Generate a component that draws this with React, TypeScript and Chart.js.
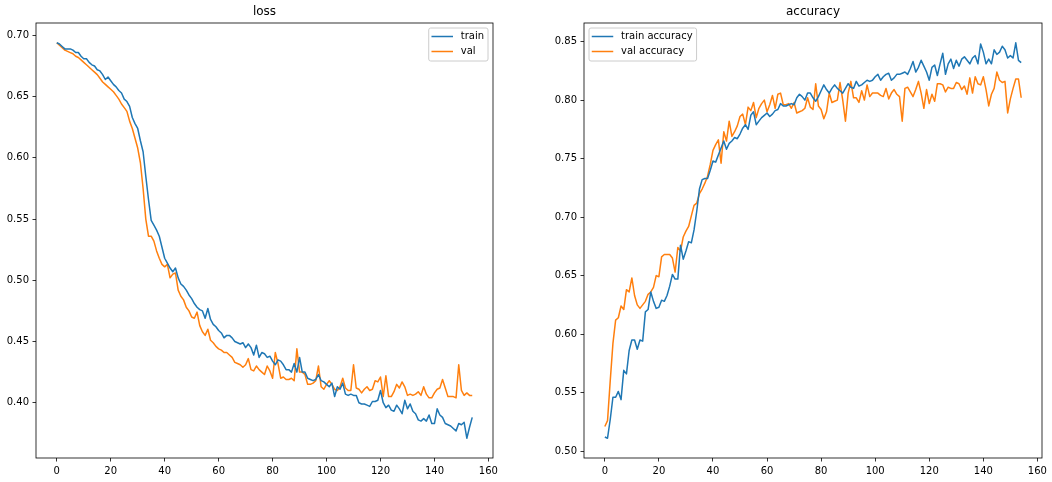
import React, { useEffect, useRef } from 'react';
import { Chart, registerables } from 'chart.js';

Chart.register(...registerables);

// ---- Data ----
const trainLoss = [
  0.694, 0.693, 0.691, 0.689, 0.689, 0.689, 0.688, 0.686, 0.686, 0.683,
  0.681, 0.681, 0.678, 0.676, 0.675, 0.672, 0.671, 0.668, 0.664, 0.666,
  0.663, 0.660, 0.658, 0.655, 0.653, 0.648, 0.646, 0.642, 0.633, 0.628,
  0.624, 0.614, 0.605, 0.585, 0.566, 0.549, 0.545, 0.541, 0.536, 0.527,
  0.518, 0.514, 0.510, 0.507, 0.510, 0.502, 0.497, 0.495, 0.492, 0.488,
  0.485, 0.481, 0.478, 0.476, 0.475, 0.469, 0.477, 0.468, 0.464, 0.462,
  0.459, 0.457, 0.453, 0.455, 0.455, 0.453, 0.450, 0.449, 0.448, 0.449,
  0.445, 0.448, 0.445, 0.439, 0.447, 0.437, 0.441, 0.440, 0.437, 0.438,
  0.434, 0.431, 0.435, 0.434, 0.431, 0.427, 0.427, 0.425, 0.432, 0.425,
  0.437, 0.425, 0.425, 0.420, 0.419, 0.418, 0.419, 0.423, 0.418, 0.417,
  0.415, 0.413, 0.416, 0.405, 0.413, 0.411, 0.416, 0.407, 0.406, 0.407,
  0.406, 0.406, 0.400, 0.399, 0.399, 0.398, 0.397, 0.401, 0.401, 0.402,
  0.410, 0.400, 0.396, 0.398, 0.394, 0.393, 0.398, 0.395, 0.391, 0.402,
  0.395, 0.399, 0.393, 0.391, 0.386, 0.385, 0.387, 0.385, 0.390, 0.383,
  0.383, 0.395, 0.390, 0.388, 0.383, 0.382, 0.381, 0.379, 0.377, 0.383,
  0.382, 0.384, 0.371, 0.380, 0.388,
];

const valLoss = [
  0.694, 0.692, 0.690, 0.688, 0.687, 0.686, 0.685, 0.683, 0.682, 0.680,
  0.678, 0.676, 0.674, 0.672, 0.670, 0.668, 0.665, 0.662, 0.660, 0.658,
  0.656, 0.654, 0.651, 0.648, 0.644, 0.641, 0.638, 0.630, 0.624, 0.616,
  0.608, 0.596, 0.575, 0.550, 0.536, 0.536, 0.532, 0.524, 0.518, 0.513,
  0.511, 0.513, 0.502, 0.505, 0.506, 0.492, 0.487, 0.484, 0.478, 0.475,
  0.470, 0.469, 0.474, 0.463, 0.458, 0.455, 0.460, 0.451, 0.449, 0.446,
  0.444, 0.443, 0.441, 0.441, 0.439, 0.437, 0.433, 0.432, 0.431, 0.429,
  0.431, 0.436, 0.427, 0.426, 0.430, 0.427, 0.425, 0.423, 0.430, 0.426,
  0.420, 0.441, 0.432, 0.420, 0.421, 0.419, 0.419, 0.420, 0.418, 0.444,
  0.425, 0.425, 0.423, 0.415, 0.415, 0.416, 0.418, 0.430, 0.413, 0.411,
  0.415, 0.418, 0.415, 0.411, 0.410, 0.413, 0.420, 0.412, 0.410, 0.410,
  0.431, 0.412, 0.411, 0.408, 0.411, 0.413, 0.410, 0.411, 0.418, 0.417,
  0.421, 0.405, 0.422, 0.405, 0.405, 0.409, 0.415, 0.412, 0.417, 0.413,
  0.406, 0.407, 0.406, 0.407, 0.409, 0.406, 0.413, 0.407, 0.404, 0.404,
  0.408, 0.411, 0.412, 0.419, 0.412, 0.405, 0.405, 0.405, 0.404, 0.431,
  0.410, 0.406, 0.408, 0.406, 0.406,
];

const trainAcc = [
  0.512, 0.511, 0.527, 0.546, 0.546, 0.551, 0.544, 0.569, 0.566, 0.586,
  0.595, 0.595, 0.587, 0.595, 0.594, 0.619, 0.621, 0.636, 0.628, 0.622,
  0.623, 0.629, 0.628, 0.633, 0.641, 0.651, 0.647, 0.647, 0.676, 0.664,
  0.671, 0.679, 0.678, 0.689, 0.705, 0.724, 0.732, 0.733, 0.733, 0.740,
  0.748, 0.747, 0.753, 0.759, 0.765, 0.758, 0.763, 0.765, 0.768, 0.767,
  0.771, 0.776, 0.779, 0.775, 0.787, 0.790, 0.779, 0.782, 0.785, 0.787,
  0.789, 0.786, 0.788, 0.791, 0.792, 0.797, 0.795, 0.795, 0.796, 0.797,
  0.796, 0.802, 0.805, 0.803, 0.800, 0.806, 0.806, 0.802, 0.799, 0.803,
  0.808, 0.813, 0.809, 0.806, 0.810, 0.813, 0.810, 0.808, 0.806, 0.810,
  0.814, 0.811, 0.810, 0.816, 0.812, 0.813, 0.815, 0.817, 0.816, 0.817,
  0.820, 0.822, 0.817, 0.820, 0.822, 0.823, 0.817, 0.819, 0.822, 0.822,
  0.823, 0.824, 0.822, 0.827, 0.833, 0.824, 0.828, 0.834, 0.829, 0.824,
  0.817, 0.828, 0.830, 0.821, 0.831, 0.840, 0.822, 0.831, 0.835, 0.827,
  0.834, 0.829, 0.835, 0.837, 0.834, 0.831, 0.836, 0.838, 0.831, 0.848,
  0.841, 0.831, 0.835, 0.831, 0.843, 0.839, 0.841, 0.846, 0.843, 0.836,
  0.838, 0.836, 0.849, 0.834, 0.832,
];

const valAcc = [
  0.521, 0.526, 0.560, 0.592, 0.612, 0.614, 0.624, 0.621, 0.638, 0.636,
  0.648, 0.633, 0.625, 0.622, 0.625, 0.628, 0.634, 0.636, 0.640, 0.650,
  0.649, 0.666, 0.668, 0.668, 0.668, 0.665, 0.653, 0.674, 0.671, 0.683,
  0.688, 0.692, 0.701, 0.710, 0.712, 0.720, 0.724, 0.729, 0.735, 0.745,
  0.757, 0.762, 0.766, 0.746, 0.773, 0.765, 0.782, 0.769, 0.773, 0.778,
  0.786, 0.788, 0.779, 0.794, 0.791, 0.798, 0.785, 0.793, 0.797, 0.800,
  0.790, 0.796, 0.804, 0.793, 0.805, 0.806, 0.796, 0.796, 0.797, 0.793,
  0.798, 0.789, 0.790, 0.791, 0.793, 0.802, 0.794, 0.792, 0.814, 0.795,
  0.792, 0.784, 0.790, 0.806, 0.798, 0.799, 0.800, 0.815, 0.800, 0.782,
  0.806, 0.816, 0.802, 0.802, 0.798, 0.808, 0.800, 0.813, 0.803, 0.806,
  0.806, 0.806, 0.804, 0.803, 0.810, 0.801, 0.806, 0.809, 0.805, 0.803,
  0.782, 0.810, 0.811, 0.807, 0.803, 0.809, 0.816, 0.806, 0.793, 0.809,
  0.797, 0.805, 0.799, 0.814, 0.814, 0.813, 0.807, 0.811, 0.810, 0.810,
  0.815, 0.814, 0.809, 0.812, 0.805, 0.819, 0.806, 0.820, 0.814, 0.813,
  0.820, 0.809, 0.795, 0.805, 0.810, 0.824, 0.817, 0.815, 0.816, 0.789,
  0.801, 0.810, 0.818, 0.818, 0.802,
];

const epochs = trainLoss.map((_, i) => i);

const lossLabels = ['train', 'val'];
const accLabels = ['train accuracy', 'val accuracy'];
const lossTitle = 'loss';
const accTitle = 'accuracy';
const xTickStep = 20;
const yTickStep = 0.05;

const COLORS = ['#1f77b4', '#ff7f0e'];
const FONT = 'DejaVu Sans';

// Draw the full axes frame and a matplotlib-like legend inside the axes
const mplPlugin = {
  id: 'mplLegend',
  afterDraw(chart: any, _args: any, opts: any) {
    const { ctx, chartArea: a } = chart;
    ctx.save();
    ctx.strokeStyle = '#000';
    ctx.lineWidth = 0.8;
    ctx.strokeRect(a.left, a.top, a.right - a.left, a.bottom - a.top);

    const items = chart.data.datasets.map((d: any) => ({ label: d.label, color: d.borderColor }));
    ctx.font = `10px "${FONT}"`;
    const textW = Math.max(...items.map((it: any) => ctx.measureText(it.label).width));
    const rowH = 10;
    const gap = 5;
    const w = 4 + 20 + 8 + textW + 4;
    const h = 4 + items.length * rowH + (items.length - 1) * gap + 4;
    const x = opts.loc === 'upper right' ? a.right - 5 - w : a.left + 5;
    const y = a.top + 5;
    const r = 2;
    ctx.beginPath();
    ctx.moveTo(x + r, y);
    ctx.lineTo(x + w - r, y);
    ctx.arcTo(x + w, y, x + w, y + r, r);
    ctx.lineTo(x + w, y + h - r);
    ctx.arcTo(x + w, y + h, x + w - r, y + h, r);
    ctx.lineTo(x + r, y + h);
    ctx.arcTo(x, y + h, x, y + h - r, r);
    ctx.lineTo(x, y + r);
    ctx.arcTo(x, y, x + r, y, r);
    ctx.closePath();
    ctx.fillStyle = 'rgba(255,255,255,0.8)';
    ctx.fill();
    ctx.strokeStyle = '#cccccc';
    ctx.lineWidth = 1;
    ctx.stroke();

    items.forEach((it: any, i: number) => {
      const cy = y + 3.5 + rowH / 2 + i * (rowH + gap);
      ctx.beginPath();
      ctx.moveTo(x + 3.5, cy);
      ctx.lineTo(x + 23.5, cy);
      ctx.strokeStyle = it.color;
      ctx.lineWidth = 1.5;
      ctx.lineCap = 'square';
      ctx.stroke();
      ctx.fillStyle = '#000';
      ctx.textBaseline = 'middle';
      ctx.textAlign = 'left';
      ctx.fillText(it.label, x + 32, cy);
    });
    ctx.restore();
  },
};

function makeConfig(title: string, series: number[][], labels: string[], loc: string): any {
  const all = series.flat();
  const yMin = Math.min(...all);
  const yMax = Math.max(...all);
  const yPad = (yMax - yMin) * 0.05;
  const xMin = epochs[0];
  const xMax = epochs[epochs.length - 1];
  const xPad = (xMax - xMin) * 0.05;
  const tickFont = { family: FONT, size: 10 };
  const grid = { drawOnChartArea: false, drawTicks: true, tickLength: 3.5, color: '#000', lineWidth: 0.8 };
  return {
    type: 'line',
    data: {
      datasets: series.map((s, k) => ({
        label: labels[k],
        data: s.map((v, i) => ({ x: epochs[i], y: v })),
        borderColor: COLORS[k],
        backgroundColor: COLORS[k],
        borderWidth: 1.5,
        pointRadius: 0,
        tension: 0,
        fill: false,
        borderJoinStyle: 'round',
      })),
    },
    options: {
      responsive: false,
      animation: false,
      devicePixelRatio: 1,
      layout: { padding: { left: 0, right: 10, top: 0, bottom: 0 } },
      plugins: {
        legend: { display: false },
        tooltip: { enabled: false },
        title: {
          display: true,
          text: title,
          fullSize: false,
          color: '#000',
          font: { family: FONT, size: 12, weight: 'normal' },
          padding: { top: 4.6, bottom: 4 },
        },
        mplLegend: { loc },
      },
      scales: {
        x: {
          type: 'linear',
          min: xMin - xPad,
          max: xMax + xPad,
          grid,
          border: { display: false },
          ticks: {
            stepSize: xTickStep,
            includeBounds: false,
            padding: 3.5,
            color: '#000',
            font: tickFont,
            maxRotation: 0,
            autoSkip: false,
            callback: (v: any) => String(v),
          },
          afterFit: (s: any) => {
            s.height = 24;
          },
        },
        y: {
          type: 'linear',
          min: yMin - yPad,
          max: yMax + yPad,
          grid,
          border: { display: false },
          ticks: {
            stepSize: yTickStep,
            includeBounds: false,
            padding: 3.5,
            color: '#000',
            font: tickFont,
            autoSkip: false,
            callback: (v: any) => Number(v).toFixed(2),
          },
          afterFit: (s: any) => {
            s.width = 36;
          },
        },
      },
    },
    plugins: [mplPlugin],
  };
}

export default function App() {
  const lossRef = useRef<HTMLCanvasElement>(null);
  const accRef = useRef<HTMLCanvasElement>(null);

  useEffect(() => {
    const c1 = new Chart(lossRef.current as HTMLCanvasElement, makeConfig(lossTitle, [trainLoss, valLoss], lossLabels, 'upper right'));
    const c2 = new Chart(accRef.current as HTMLCanvasElement, makeConfig(accTitle, [trainAcc, valAcc], accLabels, 'upper left'));
    return () => {
      c1.destroy();
      c2.destroy();
    };
  }, []);

  return (
    <div style={{ position: 'fixed', left: 0, top: 0, width: 1052, height: 482, background: '#fff' }}>
      <canvas ref={lossRef} width={503} height={482} style={{ position: 'absolute', left: 0, top: 0 }} />
      <canvas ref={accRef} width={504} height={482} style={{ position: 'absolute', left: 548, top: 0 }} />
    </div>
  );
}
